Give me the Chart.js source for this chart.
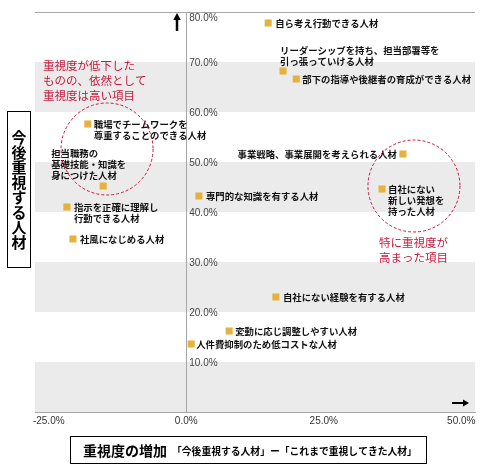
<!DOCTYPE html>
<html>
<head>
<meta charset="utf-8">
<script src="https://cdn.jsdelivr.net/npm/chart.js@4"></script>
<style>
  html, body { margin: 0; padding: 0; background: #fff; }
  #wrap { width: 500px; height: 471px; position: relative; }
</style>
</head>
<body>
<div id="wrap"><canvas id="chart"></canvas></div>
<script>
// 人材項目
const categories = [
    '自ら考え行動できる人材',
    'リーダーシップを持ち、担当部署等を\n引っ張っていける人材',
    '部下の指導や後継者の育成ができる人材',
    '事業戦略、事業展開を考えられる人材',
    '自社にない\n新しい発想を\n持った人材',
    '専門的な知識を有する人材',
    '自社にない経験を有する人材',
    '変動に応じ調整しやすい人材',
    '人件費抑制のため低コストな人材',
    '職場でチームワークを\n尊重することのできる人材',
    '担当職務の\n基礎技能・知識を\n身につけた人材',
    '指示を正確に理解し\n行動できる人材',
    '社風になじめる人材'
];
// 重視度の増加 (%)
const increase = [14.9, 17.6, 20.0, 39.4, 35.6, 2.3, 16.3, 7.8, 0.9, -17.9, -15.1, -21.7, -20.6];
// 今後重視する人材 (%)
const future = [77.8, 68.2, 66.6, 51.6, 44.6, 43.2, 23.0, 16.2, 13.6, 57.6, 45.2, 41.0, 34.6];

const xTicks = [-25, 0, 25, 50];
const yTicks = [0, 10, 20, 30, 40, 50, 60, 70, 80];
const bands = [[0, 10], [20, 30], [40, 50], [60, 70]];

// ラベルの位置 (点からのずれ px)
const labelPos = [
    [7, 0, 'left'], [-3, -21, 'left'], [6, 0, 'left'], [-6, 0, 'right'],
    [6, 0, 'left'], [7, 0, 'left'], [7, 0, 'left'], [6, 0, 'left'],
    [5, 0, 'left'], [6, 0, 'left'], [-52, -33, 'left'], [7, 0, 'left'],
    [7, 0, 'left']
];

// 赤い注記
const notes = [
    { x: -26.05, y: 69.2, text: '重視度が低下した\nものの、依然として\n重視度は高い項目' },
    { x: 35.05, y: 33.8, text: '特に重視度が\n高まった項目' }
];
const circles = [
    { x: -14.4, y: 52.6, r: 46 },
    { x: 41.4, y: 45.2, r: 46 }
];

const RED = '#c8193c';
const JP = '"Noto Sans CJK JP", "Noto Sans", sans-serif';
const NUM = '"Liberation Sans Narrow", "Liberation Sans", sans-serif';

const decorPlugin = {
    id: 'decor',
    beforeDraw(chart) {
        const ctx = chart.ctx;
        const { left, right } = chart.chartArea;
        const y = chart.scales.y;
        ctx.save();
        ctx.fillStyle = '#ebebeb';
        bands.forEach(b => {
            const top = y.getPixelForValue(b[1]);
            const bot = y.getPixelForValue(b[0]);
            ctx.fillRect(left, top, right - left, bot - top);
        });
        ctx.restore();
    },
    afterDraw(chart) {
        const ctx = chart.ctx;
        const { left, right, top, bottom } = chart.chartArea;
        const xs = chart.scales.x, ys = chart.scales.y;
        const x0 = xs.getPixelForValue(0);
        ctx.save();

        // y 目盛ラベル
        ctx.font = '10px ' + NUM;
        ctx.fillStyle = '#444';
        ctx.textAlign = 'left';
        ctx.textBaseline = 'middle';
        yTicks.forEach(v => {
            if (v === 0) return;
            const py = Math.max(ys.getPixelForValue(v) + 1, top + 6);
            ctx.fillText(v.toFixed(1) + '%', x0 + 3, py);
        });

        // 矢印
        ctx.fillStyle = '#000';
        ctx.fillRect(x0 - 10.5, top + 7, 2.5, 12);
        ctx.beginPath();
        ctx.moveTo(x0 - 9.25, top + 1);
        ctx.lineTo(x0 - 13, top + 8);
        ctx.lineTo(x0 - 5.5, top + 8);
        ctx.closePath();
        ctx.fill();
        ctx.fillRect(right - 23, bottom - 10, 12, 2);
        ctx.beginPath();
        ctx.moveTo(right - 6, bottom - 9);
        ctx.lineTo(right - 12, bottom - 12.5);
        ctx.lineTo(right - 12, bottom - 5.5);
        ctx.closePath();
        ctx.fill();

        // 点ラベル
        const meta = chart.getDatasetMeta(0);
        ctx.font = 'bold 9.4px ' + JP;
        ctx.fillStyle = '#111';
        ctx.textBaseline = 'middle';
        meta.data.forEach((pt, i) => {
            const [dx, dy, align] = labelPos[i];
            ctx.textAlign = align;
            categories[i].split('\n').forEach((line, k) => {
                ctx.fillText(line, pt.x + dx, pt.y + dy + k * 11);
            });
        });

        // 破線の円
        ctx.strokeStyle = RED;
        ctx.lineWidth = 1;
        ctx.setLineDash([3, 2]);
        circles.forEach(c => {
            ctx.beginPath();
            ctx.arc(xs.getPixelForValue(c.x), ys.getPixelForValue(c.y), c.r, 0, Math.PI * 2);
            ctx.stroke();
        });
        ctx.setLineDash([]);

        // 赤い注記
        ctx.font = '11.5px ' + JP;
        ctx.fillStyle = RED;
        ctx.textAlign = 'left';
        notes.forEach(n => {
            const px = xs.getPixelForValue(n.x), py = ys.getPixelForValue(n.y);
            n.text.split('\n').forEach((line, k) => ctx.fillText(line, px, py + k * 15));
        });

        // 縦軸タイトル
        ctx.strokeStyle = '#000';
        ctx.lineWidth = 1;
        ctx.strokeRect(7.5, 111.5, 23, 156);
        ctx.fillStyle = '#000';
        ctx.font = 'bold 15px ' + JP;
        ctx.textAlign = 'center';
        Array.from('今後重視する人材').forEach((ch, k) => ctx.fillText(ch, 19, 137 + k * 15));

        // 横軸タイトル
        ctx.strokeRect(70.5, 436.5, 356, 27);
        ctx.textAlign = 'left';
        ctx.font = 'bold 14px ' + JP;
        ctx.fillText('重視度の増加', 83, 451);
        ctx.font = 'bold 9.8px ' + JP;
        ctx.fillText('「今後重視する人材」ー「これまで重視してきた人材」', 172, 451);

        ctx.restore();
    }
};

new Chart(document.getElementById('chart'), {
    type: 'scatter',
    data: {
        datasets: [{
            label: '人材',
            data: increase.map((v, i) => ({ x: v, y: future[i] })),
            pointStyle: 'rect',
            pointRadius: 5,
            pointHoverRadius: 5,
            backgroundColor: '#e5b23c',
            borderWidth: 0
        }]
    },
    options: {
        responsive: true,
        maintainAspectRatio: false,
        animation: false,
        events: [],
        layout: { padding: { left: 35, right: 25, top: 12, bottom: 0 } },
        plugins: { legend: { display: false }, tooltip: { enabled: false } },
        scales: {
            x: {
                type: 'linear',
                min: -27.5,
                max: 52.5,
                afterBuildTicks: (scale) => { scale.ticks = xTicks.map(v => ({ value: v })); },
                afterFit: (scale) => { scale.height = 59; },
                grid: { display: false, drawTicks: false },
                border: { display: true, color: '#a6a6a6' },
                ticks: {
                    padding: 3,
                    color: '#333',
                    font: { family: NUM, size: 10 },
                    callback: (v) => v.toFixed(1) + '%'
                }
            },
            y: {
                type: 'linear',
                position: { x: 0 },
                min: 0,
                max: 80,
                afterBuildTicks: (scale) => { scale.ticks = yTicks.map(v => ({ value: v })); },
                grid: {
                    drawTicks: false,
                    color: (c) => (c.tick && c.tick.value === 80) ? '#a6a6a6' : 'rgba(0,0,0,0)'
                },
                border: { display: true, color: '#a6a6a6' },
                ticks: { display: false }
            }
        }
    },
    plugins: [decorPlugin]
});
</script>
</body>
</html>
